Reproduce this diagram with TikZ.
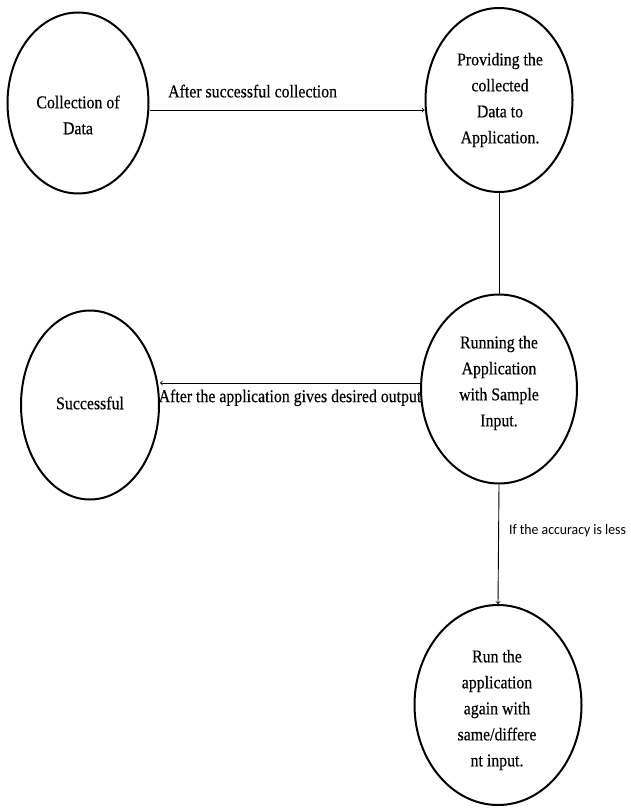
\documentclass[tikz,border=0pt]{standalone}
\usepackage{fontspec}
\setmainfont[FakeStretch=0.88,FakeBold=0.4]{Liberation Serif}
\newfontfamily\notefont[FakeStretch=0.95]{Carlito}
\usetikzlibrary{shapes.geometric,positioning,calc,arrows}

\begin{document}
\begin{tikzpicture}[
    x=1pt, y=-1pt,
    stage/.style={ellipse, draw, line width=2pt, inner sep=0pt},
    stagetext/.style={align=center, inner sep=0pt, font=\fontsize{18}{26}\selectfont},
    edgetext/.style={inner sep=0pt, font=\fontsize{18}{26}\selectfont},
    notetext/.style={inner sep=0pt, font=\notefont\fontsize{14.5}{16}\selectfont},
    arrow/.style={->, >=to, line width=0.9pt},
    link/.style={-, line width=0.9pt}
]
\useasboundingbox (0,0) rectangle (630,810);

% Stages
\node[stage, minimum width=141pt, minimum height=181pt] (collect) at (78,103) {};
\node[stage, minimum width=147pt, minimum height=184pt] (provide) at (499,100) {};
\node[stage, minimum width=156pt, minimum height=189pt] (run) at (499,389) {};
\node[stage, minimum width=138pt, minimum height=189pt] (success) at (90,405) {};
\node[stage, minimum width=167pt, minimum height=200pt] (rerun) at (498,705) {};

% Stage texts
\node[stagetext] (collecttext) at (78,115) {Collection of\\Data};
\node[stagetext] (providetext) at (500,100) {Providing the\\collected\\Data to\\Application.};
\node[stagetext] (runtext) at (499,383) {Running the\\Application\\with Sample\\Input.};
\node[stagetext] (successtext) at (90,403) {Successful};
\node[stagetext] (reruntext) at (497,710) {Run the\\application\\again with\\same/differe\\nt input.};

% Connectors
\draw[arrow] ([yshift=-7pt]collect.east) -- ([yshift=-7pt]collect.east -| provide.west)
    node[edgetext, pos=0.375, above=12pt] (collectlabel) {After successful collection};
\draw[link] (provide.south) -- (run.north);
\draw[arrow] ([yshift=6pt]run.west) -- ([yshift=6pt]run.west -| success.east)
    node[edgetext, midway, below=6pt] (successlabel) {After the application gives desired output};
\draw[arrow] (run.south) -- (rerun.north)
    node[notetext, pos=0.385, right=10pt] (rerunlabel) {If the accuracy is less};

\end{tikzpicture}
\end{document}
